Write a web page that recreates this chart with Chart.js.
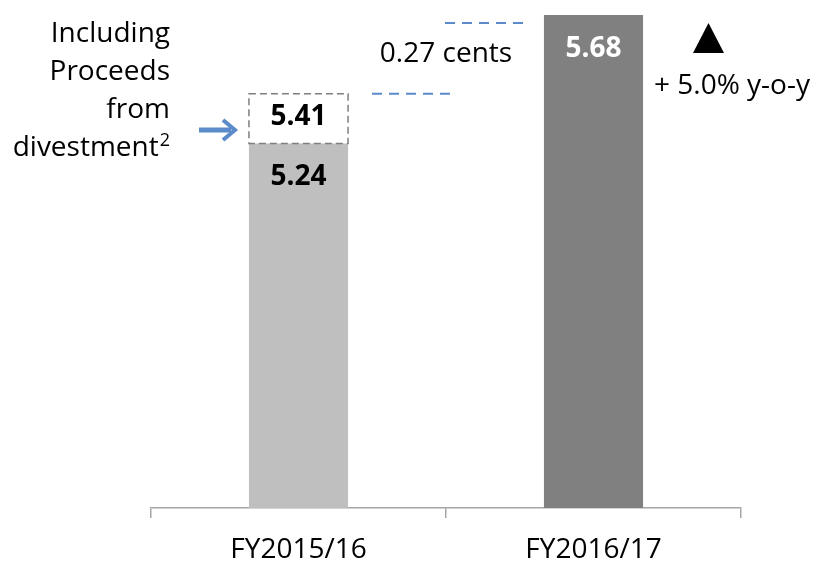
<!DOCTYPE html>
<html>
<head>
<meta charset="utf-8">
<script src="https://cdn.jsdelivr.net/npm/chart.js@4/dist/chart.umd.min.js"></script>
<style>
  html, body { margin: 0; padding: 0; background: #ffffff; }
  #wrap { width: 815px; height: 563px; }
</style>
</head>
<body>
<div id="wrap"><canvas id="c" width="815" height="563"></canvas></div>
<script>
// Dividend per share (cents)
const categories = ['FY2015/16', 'FY2016/17'];
const dividend = [5.24, 5.68];
const withProceeds = [5.41, null];   // FY2015/16 including proceeds from divestment
const barColors = ['#bfbfbf', '#808080'];
const labelColors = ['#000000', '#ffffff'];
const increaseLabel = '0.27 cents';
const growthLabel = '+ 5.0% y-o-y';
const noteLines = ['Including', 'Proceeds', 'from', 'divestment'];

const FONT = '"Open Sans", Lato, sans-serif';
const BLUE = '#5b8bc9';

const annotations = {
  id: 'annotations',
  afterDatasetsDraw(chart) {
    const ctx = chart.ctx;
    const y = chart.scales.y;
    const main = chart.getDatasetMeta(0).data;
    const extra = chart.getDatasetMeta(1).data;
    ctx.save();

    // dashed box for the divestment top-up
    const e = extra[0];
    const half = e.width / 2;
    ctx.setLineDash([7, 4]);
    ctx.strokeStyle = '#7f7f7f';
    ctx.lineWidth = 1.5;
    ctx.strokeRect(e.x - half, e.y, e.width, e.base - e.y);
    ctx.setLineDash([]);

    // value labels
    ctx.textAlign = 'center';
    ctx.textBaseline = 'middle';
    ctx.font = 'bold 28px ' + FONT;
    main.forEach((bar, i) => {
      ctx.fillStyle = labelColors[i];
      ctx.fillText(dividend[i].toFixed(2), bar.x, bar.y + 34);
    });
    ctx.fillStyle = '#000';
    ctx.fillText(withProceeds[0].toFixed(2), e.x, (e.y + e.base) / 2 - 2);

    // blue dashed guides between the two levels
    const yLow = y.getPixelForValue(withProceeds[0]);
    const yHigh = y.getPixelForValue(dividend[1]) + 8;
    ctx.strokeStyle = BLUE;
    ctx.lineWidth = 2;
    ctx.setLineDash([10, 7]);
    ctx.beginPath();
    ctx.moveTo(372, yLow); ctx.lineTo(456, yLow);
    ctx.moveTo(445, yHigh); ctx.lineTo(527, yHigh);
    ctx.stroke();
    ctx.setLineDash([]);

    ctx.font = '28px ' + FONT;
    ctx.fillStyle = '#000';
    ctx.fillText(increaseLabel, 446, 54);

    // growth marker
    ctx.beginPath();
    ctx.moveTo(708.5, 23); ctx.lineTo(724, 53); ctx.lineTo(693, 53);
    ctx.closePath();
    ctx.fill();
    ctx.fillText(growthLabel, 732, 86);

    // side note with arrow
    ctx.textAlign = 'right';
    const lineYs = [34, 72, 110, 148];
    noteLines.forEach((t, i) => {
      let x = 170;
      if (i === 3) {
        ctx.font = '18px ' + FONT;
        ctx.textBaseline = 'alphabetic';
        ctx.fillText('2', 170, 146);
        x = 170 - ctx.measureText('2').width - 1;
        ctx.font = '28px ' + FONT;
        ctx.textBaseline = 'middle';
      }
      ctx.fillText(t, x, lineYs[i]);
    });

    ctx.strokeStyle = BLUE;
    ctx.lineWidth = 5;
    ctx.beginPath();
    ctx.moveTo(199, 130); ctx.lineTo(231, 130);
    ctx.stroke();
    ctx.lineWidth = 4;
    ctx.lineJoin = 'miter';
    ctx.beginPath();
    ctx.moveTo(223, 120); ctx.lineTo(235, 130); ctx.lineTo(223, 140);
    ctx.stroke();

    ctx.restore();
  }
};

new Chart(document.getElementById('c'), {
  type: 'bar',
  data: {
    labels: categories,
    datasets: [
      {
        data: dividend,
        backgroundColor: barColors,
        borderWidth: 0,
        grouped: false,
        categoryPercentage: 1,
        barPercentage: 0.336,
        order: 2
      },
      {
        data: withProceeds.map((v, i) => v === null ? null : [dividend[i], v]),
        backgroundColor: 'rgba(255,255,255,0)',
        borderWidth: 0,
        grouped: false,
        categoryPercentage: 1,
        barPercentage: 0.336,
        order: 1
      }
    ]
  },
  options: {
    responsive: false,
    animation: false,
    devicePixelRatio: 1,
    layout: { padding: { left: 151, right: 74, top: 0, bottom: 0 } },
    plugins: { legend: { display: false }, tooltip: { enabled: false } },
    scales: {
      y: {
        display: false,
        min: 3.992,
        max: 5.731
      },
      x: {
        offset: true,
        grid: {
          offset: true,
          drawOnChartArea: false,
          drawTicks: true,
          tickLength: 10,
          color: '#a6a6a6',
          lineWidth: 1.5
        },
        border: { display: true, color: '#a6a6a6', width: 1.5 },
        ticks: {
          color: '#000',
          font: { family: FONT, size: 28 },
          padding: 15
        },
        afterFit(scale) { scale.height = 55; }
      }
    }
  },
  plugins: [annotations]
});
</script>
</body>
</html>
